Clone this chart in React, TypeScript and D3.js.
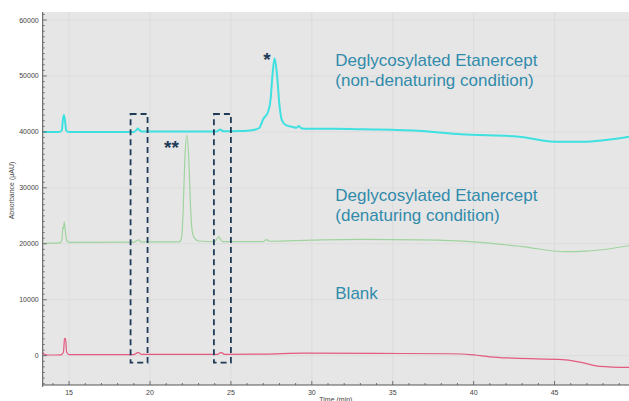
import React from "react";
import * as d3 from "d3";

type P = [number, number];

// Time (min), absorbance (µAU)
const nonDenaturing: P[] = [
  [13.37, 40000], [14.4, 40000], [14.55, 40300], [14.62, 42200], [14.68, 43000], [14.74, 42200],
  [14.82, 40300], [14.95, 40000], [19.0, 40000], [19.15, 40300], [19.25, 40600], [19.35, 40300],
  [19.5, 40050], [24.1, 40050], [24.25, 40300], [24.35, 40450], [24.45, 40200], [24.6, 40100],
  [25.5, 40150], [26.3, 40300], [26.75, 40700], [27.0, 42300], [27.3, 43600], [27.45, 45750],
  [27.57, 50200], [27.7, 53150], [27.85, 50200], [28.0, 44800], [28.15, 42100], [28.4, 41200],
  [28.8, 40900], [29.05, 40750], [29.2, 41050], [29.35, 40650], [29.7, 40550], [31.5, 40550],
  [33.2, 40460], [36.8, 40160], [39.2, 39570], [42.8, 39150], [45.0, 38250], [46.7, 38250],
  [49.6, 39150],
];

const denaturing: P[] = [
  [13.37, 20100], [14.4, 20150], [14.55, 20600], [14.62, 23000], [14.66, 22700], [14.7, 23900],
  [14.76, 22500], [14.85, 20600], [15.0, 20250], [19.0, 20300], [19.2, 20600], [19.3, 20700],
  [19.45, 20350], [21.8, 20350], [21.95, 21000], [22.05, 26000], [22.15, 35000], [22.28, 39400],
  [22.4, 35000], [22.5, 27000], [22.6, 22500], [22.75, 21000], [23.0, 20500], [24.0, 20400],
  [24.15, 20900], [24.25, 21300], [24.35, 20800], [24.5, 20400], [27.0, 20400], [27.2, 20750],
  [27.4, 20450], [30.0, 20650], [33.0, 20800], [36.8, 20700], [40.0, 20350], [43.0, 19500],
  [45.6, 18600], [47.0, 18700], [49.6, 19650],
];

const blank: P[] = [
  [13.37, 600], [13.5, 200], [13.7, 120], [14.5, 150], [14.65, 600], [14.72, 3000], [14.78, 3100],
  [14.85, 600], [15.0, 200], [19.0, 200], [19.2, 500], [19.3, 550], [19.45, 250], [24.2, 250],
  [24.35, 550], [24.45, 500], [24.6, 250], [27.0, 280], [29.5, 450], [34.0, 400], [38.5, 350],
  [40.0, 150], [41.0, -200], [42.5, -450], [45.5, -700], [46.5, -1100], [47.8, -1900], [49.6, -2100],
];

// Dashed highlight boxes: [t0, t1, yLow, yHigh]
const boxes: [number, number, number, number][] = [
  [18.8, 19.85, -1250, 43200],
  [23.95, 25.0, -1250, 43200],
];

const xTicks = [15, 20, 25, 30, 35, 40, 45];
const yTicks = [0, 10000, 20000, 30000, 40000, 50000, 60000];

const labels = [
  { lines: ["Deglycosylated Etanercept", "(non-denaturing condition)"], t: 31.45, v: 51700 },
  { lines: ["Deglycosylated Etanercept", "(denaturing condition)"], t: 31.45, v: 27650 },
  { lines: ["Blank"], t: 31.45, v: 10200 },
];

const marks = [
  { text: "*", t: 27.0, v: 51700 },
  { text: "**", t: 20.87, v: 36050 },
];

export default function App() {
  const W = 629, H = 401;
  const x0 = 42.7, x1 = 629, y0 = 12, y1 = 385;
  const x = d3.scaleLinear().domain([13.37, 49.6]).range([x0, x1]);
  const y = d3.scaleLinear().domain([-5240, 61430]).range([y1, y0]);
  const line = d3
    .line<P>()
    .x((d) => x(d[0]))
    .y((d) => y(d[1]))
    .curve(d3.curveMonotoneX);

  const xMinor = d3.range(14, 50, 1);
  const yMinor = d3.range(-5000, 61001, 1000);
  const labelColor = "#318bab";
  const navy = "#1f3b57";

  return (
    <svg
      width={W}
      height={H}
      style={{ position: "absolute", left: 0, top: 0, background: "#fff" }}
      fontFamily="'Liberation Sans', Arial, sans-serif"
    >
      <defs>
        <clipPath id="plot">
          <rect x={x0} y={y0} width={x1 - x0} height={y1 - y0} />
        </clipPath>
      </defs>
      <rect x={x0} y={y0} width={x1 - x0} height={y1 - y0} fill="#e6e6e6" />
      {xTicks.map((t) => (
        <line key={"gx" + t} x1={x(t)} x2={x(t)} y1={y0} y2={y1} stroke="#d8d8d8" strokeWidth={0.7} />
      ))}
      {yTicks.map((v) => (
        <line key={"gy" + v} x1={x0} x2={x1} y1={y(v)} y2={y(v)} stroke="#d8d8d8" strokeWidth={0.7} />
      ))}

      <g clipPath="url(#plot)" fill="none">
        <path d={line(blank) || ""} stroke="#e45a80" strokeWidth={1.2} />
        <path d={line(denaturing) || ""} stroke="#9fd49f" strokeWidth={1.2} />
        <path d={line(nonDenaturing) || ""} stroke="#3ee0e0" strokeWidth={2} />
      </g>

      {boxes.map((b, i) => (
        <rect
          key={"b" + i}
          x={x(b[0])}
          y={y(b[3])}
          width={x(b[1]) - x(b[0])}
          height={y(b[2]) - y(b[3])}
          fill="none"
          stroke={navy}
          strokeWidth={1.8}
          strokeDasharray="6,4"
        />
      ))}

      {/* axes */}
      <line x1={x0} x2={x0} y1={y0} y2={y1 + 2} stroke="#555" strokeWidth={1} />
      <line x1={x0} x2={x1} y1={y1} y2={y1} stroke="#555" strokeWidth={1} />
      {yMinor.map((v) => (
        <line key={"ym" + v} x1={x0} x2={x0 + (v % 10000 === 0 ? 4 : 2)} y1={y(v)} y2={y(v)} stroke="#555" strokeWidth={0.8} />
      ))}
      {xMinor.map((t) => (
        <line key={"xm" + t} x1={x(t)} x2={x(t)} y1={y1} y2={y1 - (t % 5 === 0 ? 4 : 2)} stroke="#555" strokeWidth={0.8} />
      ))}
      {yTicks.map((v) => (
        <text key={"yl" + v} x={x0 - 4} y={y(v) + 2.5} fontSize={7} fill="#444" textAnchor="end">
          {v}
        </text>
      ))}
      {xTicks.map((t) => (
        <text key={"xl" + t} x={x(t)} y={y1 + 10} fontSize={7} fill="#444" textAnchor="middle">
          {t}
        </text>
      ))}
      <text x={(x0 + x1) / 2} y={402} fontSize={7} fill="#444" textAnchor="middle">
        Time (min)
      </text>
      <text
        transform={`translate(14,${(y0 + y1) / 2 - 8}) rotate(-90)`}
        fontSize={7}
        fill="#444"
        textAnchor="middle"
      >
        Absorbance (μAU)
      </text>

      {labels.map((l, i) => (
        <text key={"l" + i} x={x(l.t)} y={y(l.v)} fontSize={17} fill={labelColor}>
          {l.lines.map((s, j) => (
            <tspan key={j} x={x(l.t)} dy={j === 0 ? 0 : 20}>
              {s}
            </tspan>
          ))}
        </text>
      ))}
      {marks.map((m, i) => (
        <text key={"m" + i} x={x(m.t)} y={y(m.v)} fontSize={19} fontWeight="bold" fill={navy}>
          {m.text}
        </text>
      ))}
    </svg>
  );
}
